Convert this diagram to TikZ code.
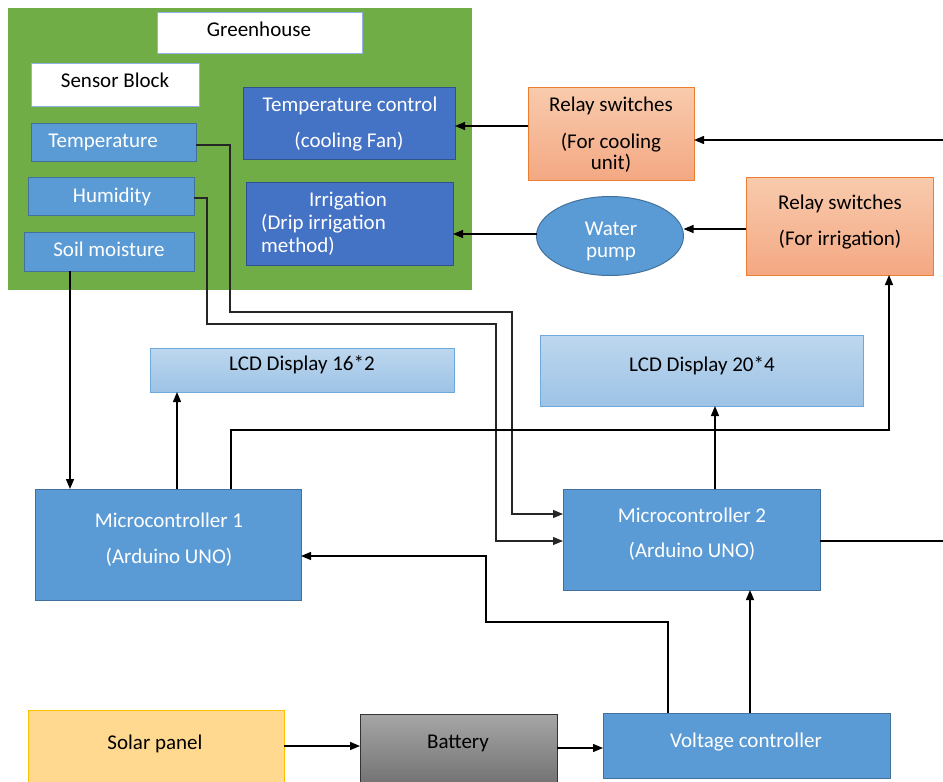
\documentclass[tikz,border=0pt]{standalone}
\usepackage{fontspec}
\setmainfont{Carlito}
\usetikzlibrary{arrows.meta,shapes.geometric}
\definecolor{ghgreen}{HTML}{70AD47}
\definecolor{sblue}{HTML}{5B9BD5}
\definecolor{sborder}{HTML}{41719C}
\definecolor{dblue}{HTML}{4472C4}
\definecolor{dborder}{HTML}{2F528F}
\definecolor{lcdtop}{HTML}{BDD7EE}
\definecolor{lcdbot}{HTML}{9DC3E6}
\definecolor{lcdborder}{HTML}{6FA8DC}
\definecolor{relaytop}{HTML}{F8CBAD}
\definecolor{relaybot}{HTML}{F4A883}
\definecolor{relayborder}{HTML}{ED7D31}
\definecolor{solarfill}{HTML}{FFD98F}
\definecolor{solarborder}{HTML}{FFC000}
\definecolor{battop}{HTML}{A6A6A6}
\definecolor{batbot}{HTML}{707070}
\definecolor{whiteborder}{HTML}{8FB4E3}
\tikzset{
  bx/.style={rectangle, inner sep=0pt, outer sep=0pt, line width=1pt},
  whitebox/.style={bx, fill=white, draw=whiteborder},
  sensorbox/.style={bx, fill=sblue, draw=sborder},
  ctrlbox/.style={bx, fill=dblue, draw=dborder},
  lcdbox/.style={bx, top color=lcdtop, bottom color=lcdbot, draw=lcdborder},
  relaybox/.style={bx, top color=relaytop, bottom color=relaybot, draw=relayborder},
  txt/.style={inner sep=0pt, font=\fontsize{21}{25}\selectfont, text height=16pt, text depth=2pt},
  wtxt/.style={txt, text=white},
  arr/.style={draw=black, line width=1.3pt, -{Triangle[length=10pt,width=8pt]}},
  sline/.style={draw=black!85, line width=1.1pt, -{Triangle[length=10pt,width=8pt]}},
  pline/.style={draw=black, line width=1.2pt}
}
\begin{document}
\begin{tikzpicture}[x=1pt,y=-1pt]
\clip (0,0) rectangle (943,782);
\fill[white] (0,0) rectangle (943,782);
% greenhouse area
\node[bx, fill=ghgreen, minimum width=464pt, minimum height=282pt] (gharea) at (240,149) {};
\node[whitebox, minimum width=205pt, minimum height=41pt] (ghlabel) at (259.5,32.5) {};
\node[txt] (ghtext) at (259,29) {Greenhouse};
\node[whitebox, minimum width=168pt, minimum height=43pt] (sblock) at (115,84.5) {};
\node[txt] (sblocktext) at (115,80) {Sensor Block};
\node[sensorbox, minimum width=165pt, minimum height=38pt] (temp) at (113.5,142) {};
\node[wtxt] (temptext) at (103,140) {Temperature};
\node[sensorbox, minimum width=166pt, minimum height=38pt] (hum) at (111,196) {};
\node[wtxt] (humtext) at (112,195) {Humidity};
\node[sensorbox, minimum width=170pt, minimum height=39pt] (soil) at (109,251.5) {};
\node[wtxt] (soiltext) at (109,249) {Soil moisture};
\node[ctrlbox, minimum width=212pt, minimum height=72pt] (tctrl) at (349,123) {};
\node[wtxt] (tctrlA) at (350,104) {Temperature control};
\node[wtxt] (tctrlB) at (349,140) {(cooling Fan)};
\node[ctrlbox, minimum width=207pt, minimum height=83pt] (irr) at (349.5,223.5) {};
\node[wtxt] (irrA) at (348,199) {Irrigation};
\node[wtxt, anchor=west] (irrB) at (261,222) {(Drip irrigation};
\node[wtxt, anchor=west] (irrC) at (261,245) {method)};
% relays and pump
\node[relaybox, minimum width=166pt, minimum height=93pt] (relay1) at (611,133.5) {};
\node[txt] (relay1A) at (611,104) {Relay switches};
\node[txt] (relay1B) at (611,141) {(For cooling};
\node[txt] (relay1C) at (611,162) {unit)};
\node[ellipse, fill=sblue, draw=sborder, line width=1pt, minimum width=147pt, minimum height=79pt, inner sep=0pt, outer sep=0pt] (pump) at (610,236) {};
\node[wtxt] (pumpA) at (611,228) {Water};
\node[wtxt] (pumpB) at (611,250) {pump};
\node[relaybox, minimum width=187pt, minimum height=98pt] (relay2) at (839.5,226) {};
\node[txt] (relay2A) at (840,202) {Relay switches};
\node[txt] (relay2B) at (840,238) {(For irrigation)};
% LCDs
\node[lcdbox, minimum width=304pt, minimum height=44pt] (lcd1) at (302,370) {};
\node[txt] (lcd1text) at (302,363) {LCD Display 16*2};
\node[lcdbox, minimum width=323pt, minimum height=71pt] (lcd2) at (701.5,370.5) {};
\node[txt] (lcd2text) at (702,364) {LCD Display 20*4};
% microcontrollers
\node[sensorbox, minimum width=266pt, minimum height=111pt] (mc1) at (168,544.5) {};
\node[wtxt] (mc1A) at (169,520) {Microcontroller 1};
\node[wtxt] (mc1B) at (169,556) {(Arduino UNO)};
\node[sensorbox, minimum width=257pt, minimum height=101pt] (mc2) at (691.5,539.5) {};
\node[wtxt] (mc2A) at (692,515) {Microcontroller 2};
\node[wtxt] (mc2B) at (692,550) {(Arduino UNO)};
% power
\node[bx, fill=solarfill, draw=solarborder, minimum width=256pt, minimum height=80pt] (solar) at (156,750) {};
\node[txt] (solartext) at (155,742) {Solar panel};
\node[bx, top color=battop, bottom color=batbot, draw=black!80, minimum width=197pt, minimum height=74pt] (battery) at (458.5,751) {};
\node[txt] (batterytext) at (458,741) {Battery};
\node[sensorbox, minimum width=287pt, minimum height=65pt] (volt) at (746.5,745.5) {};
\node[wtxt] (volttext) at (746,740) {Voltage controller};
% connectors
\coordinate (inC) at (943,140);
\coordinate (outR) at (943,541);
\draw[arr] (relay1.west |- 0,126) -- (tctrl.east |- 0,126);
\draw[arr] (inC) -- (relay1.east |- inC);
\draw[arr] (pump.west |- 0,234) -- (irr.east |- 0,234);
\draw[arr] (relay2.west |- 0,229) -- (pump.east |- 0,229);
\draw[sline] (temp.east |- 0,145) -- (230,145) -- (230,312) -- (512,312) -- (512,514) -- (mc2.west |- 0,514);
\draw[sline] (hum.east |- 0,198) -- (207,198) -- (207,324) -- (496,324) -- (496,541) -- (mc2.west |- 0,541);
\draw[arr] (soil.south -| 70,0) -- (mc1.north -| 70,0);
\draw[arr] (mc1.north -| 177,0) -- (lcd1.south -| 177,0);
\draw[arr] (mc1.north -| 231,0) -- (231,430) -- (889,430) -- (relay2.south -| 889,0);
\draw[arr] (mc2.north -| 715,0) -- (lcd2.south -| 715,0);
\draw[pline] (mc2.east |- outR) -- (outR);
\draw[arr] (volt.north -| 668,0) -- (668,622) -- (486,622) -- (486,556) -- (mc1.east |- 0,556);
\draw[arr] (volt.north -| 750,0) -- (mc2.south -| 750,0);
\draw[arr] (solar.east |- 0,746) -- (battery.west |- 0,746);
\draw[arr] (battery.east |- 0,748) -- (volt.west |- 0,748);
\end{tikzpicture}
\end{document}
